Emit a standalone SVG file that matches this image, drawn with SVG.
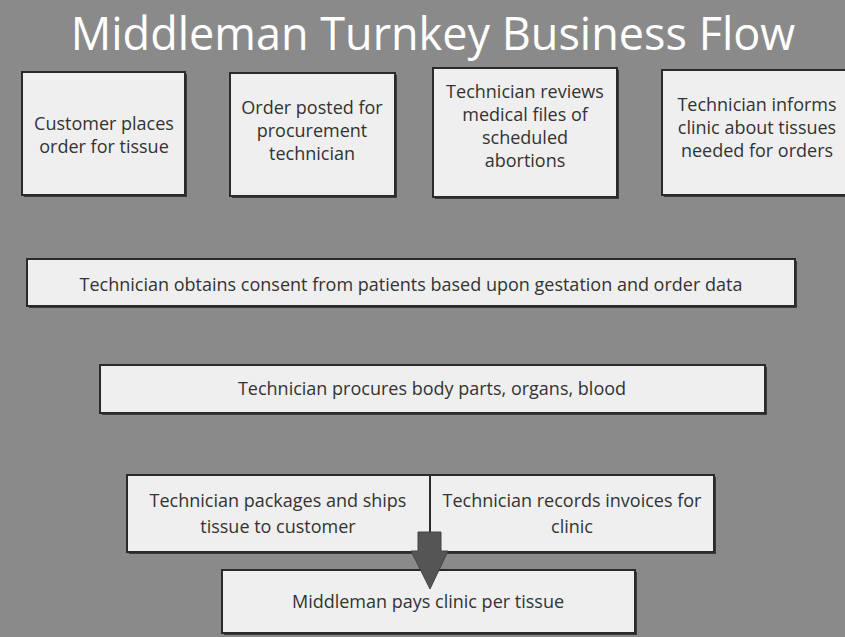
<svg xmlns="http://www.w3.org/2000/svg" width="845" height="637" viewBox="0 0 845 637">
<style>
.bg{fill:#8a8a8a}
.box{fill:#efefef;stroke:#2a2a2a;stroke-width:2}
.shadow{fill:#3a3a3a}
.t{font-family:"Open Sans","Liberation Sans",sans-serif;font-size:18px;fill:#333;text-anchor:middle}
.t1{font-size:18px}
.title{font-family:"Open Sans","Liberation Sans",sans-serif;font-size:45px;fill:#fff;text-anchor:middle}
.arrow{fill:#555;stroke:#444;stroke-width:1}
</style>
<rect class="bg" x="0" y="0" width="845" height="637"/>
<text class="title" x="433" y="50">Middleman Turnkey Business Flow</text>

<g id="n1">
<rect class="shadow" x="24" y="74" width="163" height="123"/>
<rect class="box" x="22" y="72" width="163" height="123"/>
<text class="t t1" x="104" y="130">Customer places</text>
<text class="t t1" x="104" y="153">order for tissue</text>
</g>
<g id="n2">
<rect class="shadow" x="232" y="75" width="165" height="123"/>
<rect class="box" x="230" y="73" width="165" height="123"/>
<text class="t t1" x="312" y="114">Order posted for</text>
<text class="t t1" x="312" y="137">procurement</text>
<text class="t t1" x="312" y="160">technician</text>
</g>
<g id="n3">
<rect class="shadow" x="435" y="70" width="184" height="129"/>
<rect class="box" x="433" y="68" width="184" height="129"/>
<text class="t t1" x="525" y="98">Technician reviews</text>
<text class="t t1" x="525" y="121">medical files of</text>
<text class="t t1" x="525" y="144">scheduled</text>
<text class="t t1" x="525" y="167">abortions</text>
</g>
<g id="n4">
<rect class="shadow" x="664" y="72" width="190" height="125"/>
<rect class="box" x="662" y="70" width="190" height="125"/>
<text class="t t1" x="757" y="111">Technician informs</text>
<text class="t t1" x="757" y="134">clinic about tissues</text>
<text class="t t1" x="757" y="157">needed for orders</text>
</g>
<g id="n5">
<rect class="shadow" x="29" y="261" width="768" height="47"/>
<rect class="box" x="27" y="259" width="768" height="47"/>
<text class="t" x="411" y="291">Technician obtains consent from patients based upon gestation and order data</text>
</g>
<g id="n6">
<rect class="shadow" x="102" y="367" width="665" height="48"/>
<rect class="box" x="100" y="365" width="665" height="48"/>
<text class="t" x="432" y="395">Technician procures body parts, organs, blood</text>
</g>
<g id="n7">
<rect class="shadow" x="129" y="477" width="303" height="77"/>
<rect class="box" x="127" y="475" width="303" height="77"/>
<text class="t" x="278" y="507">Technician packages and ships</text>
<text class="t" x="278" y="533">tissue to customer</text>
</g>
<g id="n8">
<rect class="shadow" x="432" y="477" width="284" height="77"/>
<rect class="box" x="430" y="475" width="284" height="77"/>
<text class="t" x="572" y="507">Technician records invoices for</text>
<text class="t" x="572" y="533">clinic</text>
</g>
<g id="n9">
<rect class="shadow" x="224" y="572" width="413" height="63"/>
<rect class="box" x="222" y="570" width="413" height="63"/>
<text class="t" x="428" y="608">Middleman pays clinic per tissue</text>
</g>
<g id="connectors">
<polygon class="arrow" points="418,532 441,532 441,551 448,551 430,589 411,551 418,551"/>
</g>
</svg>
